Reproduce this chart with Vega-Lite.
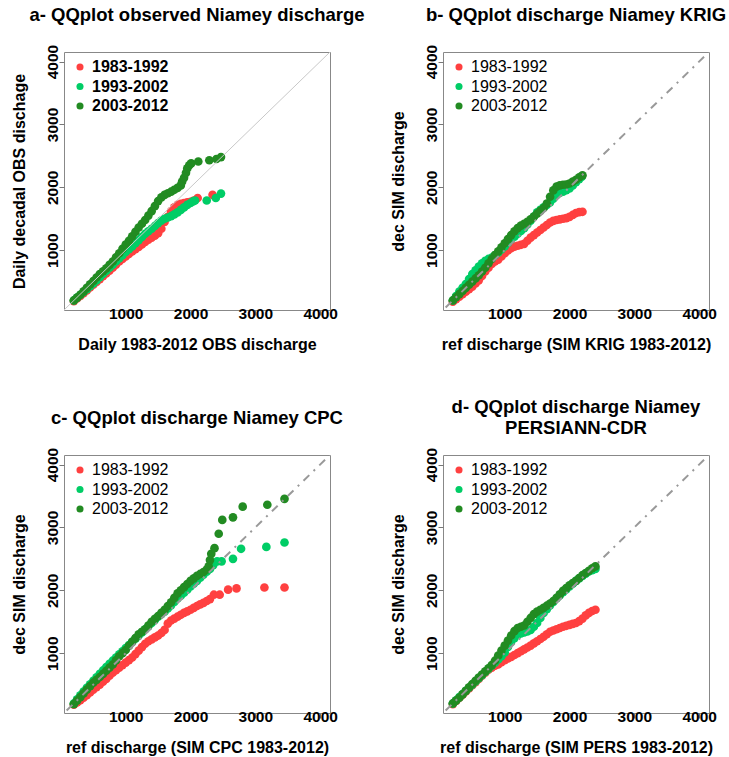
{
  "$schema": "https://vega.github.io/schema/vega-lite/v6.json",
  "background": "white",
  "padding": {"left": 11, "top": 5, "right": 2, "bottom": 2},
  "bounds": "flush",
  "columns": 2,
  "spacing": {"row": 145, "column": 113},
  "resolve": {"scale": {"color": "shared"}, "legend": {"color": "independent"}},
  "config": {
    "font": "Liberation Sans",
    "view": {"stroke": "#888888", "strokeWidth": 1},
    "axis": {"grid": false, "domain": false, "ticks": true, "tickSize": 5, "tickColor": "#777777", "labelFontSize": 15.5, "labelFontWeight": "bold", "labelColor": "#000000", "titleFontSize": 16, "titleFontWeight": "bold", "titleColor": "#000000", "labelFlush": false, "labelOverlap": false, "labelBound": false, "format": "d"},
    "axisX": {"labelPadding": -9, "titlePadding": 15},
    "axisY": {"labelAngle": -90, "labelAlign": "center", "labelBaseline": "bottom", "labelPadding": -1, "titlePadding": 17.5},
    "title": {"fontSize": 18.5, "fontWeight": "bold", "color": "#000000", "anchor": "middle", "frame": "group", "offset": 20},
    "legend": {"orient": "none", "legendX": 8, "legendY": 7, "padding": 0, "labelFontSize": 16, "symbolSize": 50, "symbolType": "circle", "labelOffset": 4, "rowPadding": 3.5, "symbolStrokeWidth": 0}
  },
  "datasets": {
    "a": [
      {"s":"1983-1992","x":200,"y":190},{"s":"1983-1992","x":250,"y":230},{"s":"1983-1992","x":300,"y":270},{"s":"1983-1992","x":350,"y":315},{"s":"1983-1992","x":400,"y":360},{"s":"1983-1992","x":450,"y":405},{"s":"1983-1992","x":500,"y":450},{"s":"1983-1992","x":550,"y":495},{"s":"1983-1992","x":600,"y":540},{"s":"1983-1992","x":650,"y":585},{"s":"1983-1992","x":700,"y":630},{"s":"1983-1992","x":750,"y":675},{"s":"1983-1992","x":800,"y":720},{"s":"1983-1992","x":850,"y":770},{"s":"1983-1992","x":900,"y":820},{"s":"1983-1992","x":950,"y":860},{"s":"1983-1992","x":1000,"y":900},{"s":"1983-1992","x":1050,"y":940},{"s":"1983-1992","x":1100,"y":980},{"s":"1983-1992","x":1150,"y":1015},{"s":"1983-1992","x":1200,"y":1050},{"s":"1983-1992","x":1250,"y":1090},{"s":"1983-1992","x":1300,"y":1130},{"s":"1983-1992","x":1350,"y":1165},{"s":"1983-1992","x":1400,"y":1200},{"s":"1983-1992","x":1450,"y":1230},{"s":"1983-1992","x":1500,"y":1270},{"s":"1983-1992","x":1550,"y":1340},{"s":"1983-1992","x":1600,"y":1450},{"s":"1983-1992","x":1650,"y":1530},{"s":"1983-1992","x":1700,"y":1620},{"s":"1983-1992","x":1750,"y":1680},{"s":"1983-1992","x":1800,"y":1720},{"s":"1983-1992","x":1850,"y":1735},{"s":"1983-1992","x":1900,"y":1750},{"s":"1983-1992","x":1950,"y":1760},{"s":"1983-1992","x":2000,"y":1770},{"s":"1983-1992","x":2050,"y":1790},{"s":"1983-1992","x":2110,"y":1830},{"s":"1983-1992","x":2340,"y":1880},
      {"s":"1993-2002","x":200,"y":200},{"s":"1993-2002","x":250,"y":245},{"s":"1993-2002","x":300,"y":290},{"s":"1993-2002","x":350,"y":335},{"s":"1993-2002","x":400,"y":380},{"s":"1993-2002","x":450,"y":425},{"s":"1993-2002","x":500,"y":470},{"s":"1993-2002","x":550,"y":520},{"s":"1993-2002","x":600,"y":570},{"s":"1993-2002","x":650,"y":620},{"s":"1993-2002","x":700,"y":670},{"s":"1993-2002","x":750,"y":720},{"s":"1993-2002","x":800,"y":770},{"s":"1993-2002","x":850,"y":820},{"s":"1993-2002","x":900,"y":870},{"s":"1993-2002","x":950,"y":920},{"s":"1993-2002","x":1000,"y":970},{"s":"1993-2002","x":1050,"y":1015},{"s":"1993-2002","x":1100,"y":1060},{"s":"1993-2002","x":1150,"y":1110},{"s":"1993-2002","x":1200,"y":1160},{"s":"1993-2002","x":1250,"y":1210},{"s":"1993-2002","x":1300,"y":1260},{"s":"1993-2002","x":1350,"y":1300},{"s":"1993-2002","x":1400,"y":1340},{"s":"1993-2002","x":1450,"y":1385},{"s":"1993-2002","x":1500,"y":1430},{"s":"1993-2002","x":1550,"y":1470},{"s":"1993-2002","x":1600,"y":1500},{"s":"1993-2002","x":1650,"y":1520},{"s":"1993-2002","x":1700,"y":1540},{"s":"1993-2002","x":1750,"y":1570},{"s":"1993-2002","x":1800,"y":1600},{"s":"1993-2002","x":1850,"y":1640},{"s":"1993-2002","x":1900,"y":1680},{"s":"1993-2002","x":1950,"y":1720},{"s":"1993-2002","x":2000,"y":1750},{"s":"1993-2002","x":2040,"y":1775},{"s":"1993-2002","x":2070,"y":1790},{"s":"1993-2002","x":2250,"y":1790},{"s":"1993-2002","x":2390,"y":1830},{"s":"1993-2002","x":2470,"y":1900},
      {"s":"2003-2012","x":200,"y":200},{"s":"2003-2012","x":250,"y":245},{"s":"2003-2012","x":300,"y":290},{"s":"2003-2012","x":350,"y":345},{"s":"2003-2012","x":400,"y":400},{"s":"2003-2012","x":450,"y":455},{"s":"2003-2012","x":500,"y":510},{"s":"2003-2012","x":550,"y":565},{"s":"2003-2012","x":600,"y":620},{"s":"2003-2012","x":650,"y":665},{"s":"2003-2012","x":700,"y":710},{"s":"2003-2012","x":750,"y":765},{"s":"2003-2012","x":800,"y":820},{"s":"2003-2012","x":850,"y":885},{"s":"2003-2012","x":900,"y":950},{"s":"2003-2012","x":950,"y":1020},{"s":"2003-2012","x":1000,"y":1090},{"s":"2003-2012","x":1050,"y":1150},{"s":"2003-2012","x":1100,"y":1220},{"s":"2003-2012","x":1150,"y":1290},{"s":"2003-2012","x":1200,"y":1360},{"s":"2003-2012","x":1250,"y":1420},{"s":"2003-2012","x":1300,"y":1480},{"s":"2003-2012","x":1350,"y":1550},{"s":"2003-2012","x":1400,"y":1620},{"s":"2003-2012","x":1450,"y":1700},{"s":"2003-2012","x":1500,"y":1780},{"s":"2003-2012","x":1550,"y":1840},{"s":"2003-2012","x":1600,"y":1880},{"s":"2003-2012","x":1650,"y":1905},{"s":"2003-2012","x":1700,"y":1930},{"s":"2003-2012","x":1750,"y":1960},{"s":"2003-2012","x":1800,"y":1990},{"s":"2003-2012","x":1850,"y":2030},{"s":"2003-2012","x":1870,"y":2090},{"s":"2003-2012","x":1900,"y":2150},{"s":"2003-2012","x":1930,"y":2230},{"s":"2003-2012","x":1950,"y":2300},{"s":"2003-2012","x":1980,"y":2350},{"s":"2003-2012","x":2010,"y":2380},{"s":"2003-2012","x":2120,"y":2410},{"s":"2003-2012","x":2290,"y":2430},{"s":"2003-2012","x":2400,"y":2450},{"s":"2003-2012","x":2470,"y":2480}
    ],
    "b": [
      {"s":"1983-1992","x":200,"y":180},{"s":"1983-1992","x":250,"y":220},{"s":"1983-1992","x":300,"y":260},{"s":"1983-1992","x":350,"y":300},{"s":"1983-1992","x":400,"y":340},{"s":"1983-1992","x":450,"y":380},{"s":"1983-1992","x":500,"y":420},{"s":"1983-1992","x":550,"y":470},{"s":"1983-1992","x":600,"y":520},{"s":"1983-1992","x":650,"y":590},{"s":"1983-1992","x":700,"y":660},{"s":"1983-1992","x":750,"y":720},{"s":"1983-1992","x":800,"y":780},{"s":"1983-1992","x":850,"y":820},{"s":"1983-1992","x":900,"y":850},{"s":"1983-1992","x":950,"y":900},{"s":"1983-1992","x":1000,"y":950},{"s":"1983-1992","x":1050,"y":995},{"s":"1983-1992","x":1100,"y":1030},{"s":"1983-1992","x":1150,"y":1055},{"s":"1983-1992","x":1200,"y":1070},{"s":"1983-1992","x":1250,"y":1085},{"s":"1983-1992","x":1300,"y":1100},{"s":"1983-1992","x":1350,"y":1150},{"s":"1983-1992","x":1400,"y":1200},{"s":"1983-1992","x":1450,"y":1240},{"s":"1983-1992","x":1500,"y":1280},{"s":"1983-1992","x":1550,"y":1320},{"s":"1983-1992","x":1600,"y":1360},{"s":"1983-1992","x":1650,"y":1400},{"s":"1983-1992","x":1700,"y":1440},{"s":"1983-1992","x":1750,"y":1465},{"s":"1983-1992","x":1800,"y":1480},{"s":"1983-1992","x":1850,"y":1490},{"s":"1983-1992","x":1900,"y":1500},{"s":"1983-1992","x":1950,"y":1510},{"s":"1983-1992","x":2000,"y":1530},{"s":"1983-1992","x":2050,"y":1560},{"s":"1983-1992","x":2100,"y":1590},{"s":"1983-1992","x":2150,"y":1605},{"s":"1983-1992","x":2200,"y":1610},
      {"s":"1993-2002","x":200,"y":200},{"s":"1993-2002","x":250,"y":270},{"s":"1993-2002","x":300,"y":340},{"s":"1993-2002","x":350,"y":400},{"s":"1993-2002","x":400,"y":460},{"s":"1993-2002","x":450,"y":540},{"s":"1993-2002","x":500,"y":620},{"s":"1993-2002","x":550,"y":680},{"s":"1993-2002","x":600,"y":740},{"s":"1993-2002","x":650,"y":790},{"s":"1993-2002","x":700,"y":830},{"s":"1993-2002","x":750,"y":860},{"s":"1993-2002","x":800,"y":880},{"s":"1993-2002","x":850,"y":920},{"s":"1993-2002","x":900,"y":960},{"s":"1993-2002","x":950,"y":1010},{"s":"1993-2002","x":1000,"y":1060},{"s":"1993-2002","x":1050,"y":1115},{"s":"1993-2002","x":1100,"y":1170},{"s":"1993-2002","x":1150,"y":1215},{"s":"1993-2002","x":1200,"y":1260},{"s":"1993-2002","x":1250,"y":1305},{"s":"1993-2002","x":1300,"y":1350},{"s":"1993-2002","x":1350,"y":1410},{"s":"1993-2002","x":1400,"y":1470},{"s":"1993-2002","x":1450,"y":1535},{"s":"1993-2002","x":1500,"y":1600},{"s":"1993-2002","x":1550,"y":1640},{"s":"1993-2002","x":1600,"y":1680},{"s":"1993-2002","x":1650,"y":1720},{"s":"1993-2002","x":1700,"y":1760},{"s":"1993-2002","x":1750,"y":1820},{"s":"1993-2002","x":1800,"y":1880},{"s":"1993-2002","x":1850,"y":1910},{"s":"1993-2002","x":1900,"y":1930},{"s":"1993-2002","x":1950,"y":1955},{"s":"1993-2002","x":2000,"y":1980},{"s":"1993-2002","x":2050,"y":2030},{"s":"1993-2002","x":2100,"y":2080},{"s":"1993-2002","x":2150,"y":2130},{"s":"1993-2002","x":2190,"y":2170},
      {"s":"2003-2012","x":200,"y":200},{"s":"2003-2012","x":250,"y":250},{"s":"2003-2012","x":300,"y":300},{"s":"2003-2012","x":350,"y":350},{"s":"2003-2012","x":400,"y":400},{"s":"2003-2012","x":450,"y":450},{"s":"2003-2012","x":500,"y":500},{"s":"2003-2012","x":550,"y":550},{"s":"2003-2012","x":600,"y":600},{"s":"2003-2012","x":650,"y":660},{"s":"2003-2012","x":700,"y":720},{"s":"2003-2012","x":750,"y":790},{"s":"2003-2012","x":800,"y":860},{"s":"2003-2012","x":850,"y":920},{"s":"2003-2012","x":900,"y":980},{"s":"2003-2012","x":950,"y":1045},{"s":"2003-2012","x":1000,"y":1110},{"s":"2003-2012","x":1050,"y":1175},{"s":"2003-2012","x":1100,"y":1240},{"s":"2003-2012","x":1150,"y":1300},{"s":"2003-2012","x":1200,"y":1350},{"s":"2003-2012","x":1250,"y":1390},{"s":"2003-2012","x":1300,"y":1420},{"s":"2003-2012","x":1350,"y":1450},{"s":"2003-2012","x":1400,"y":1490},{"s":"2003-2012","x":1450,"y":1535},{"s":"2003-2012","x":1500,"y":1580},{"s":"2003-2012","x":1550,"y":1625},{"s":"2003-2012","x":1600,"y":1670},{"s":"2003-2012","x":1650,"y":1740},{"s":"2003-2012","x":1700,"y":1850},{"s":"2003-2012","x":1750,"y":1950},{"s":"2003-2012","x":1800,"y":2010},{"s":"2003-2012","x":1850,"y":2030},{"s":"2003-2012","x":1900,"y":2040},{"s":"2003-2012","x":1950,"y":2045},{"s":"2003-2012","x":2000,"y":2060},{"s":"2003-2012","x":2050,"y":2090},{"s":"2003-2012","x":2100,"y":2120},{"s":"2003-2012","x":2150,"y":2160},{"s":"2003-2012","x":2200,"y":2190}
    ],
    "c": [
      {"s":"1983-1992","x":200,"y":180},{"s":"1983-1992","x":250,"y":215},{"s":"1983-1992","x":300,"y":250},{"s":"1983-1992","x":350,"y":290},{"s":"1983-1992","x":400,"y":330},{"s":"1983-1992","x":450,"y":375},{"s":"1983-1992","x":500,"y":420},{"s":"1983-1992","x":550,"y":460},{"s":"1983-1992","x":600,"y":500},{"s":"1983-1992","x":650,"y":545},{"s":"1983-1992","x":700,"y":590},{"s":"1983-1992","x":750,"y":640},{"s":"1983-1992","x":800,"y":690},{"s":"1983-1992","x":850,"y":730},{"s":"1983-1992","x":900,"y":770},{"s":"1983-1992","x":950,"y":810},{"s":"1983-1992","x":1000,"y":850},{"s":"1983-1992","x":1050,"y":890},{"s":"1983-1992","x":1100,"y":930},{"s":"1983-1992","x":1150,"y":985},{"s":"1983-1992","x":1200,"y":1040},{"s":"1983-1992","x":1250,"y":1095},{"s":"1983-1992","x":1300,"y":1150},{"s":"1983-1992","x":1350,"y":1190},{"s":"1983-1992","x":1400,"y":1220},{"s":"1983-1992","x":1450,"y":1250},{"s":"1983-1992","x":1500,"y":1280},{"s":"1983-1992","x":1550,"y":1320},{"s":"1983-1992","x":1600,"y":1370},{"s":"1983-1992","x":1650,"y":1470},{"s":"1983-1992","x":1700,"y":1520},{"s":"1983-1992","x":1750,"y":1550},{"s":"1983-1992","x":1800,"y":1580},{"s":"1983-1992","x":1850,"y":1610},{"s":"1983-1992","x":1900,"y":1640},{"s":"1983-1992","x":1950,"y":1665},{"s":"1983-1992","x":2000,"y":1690},{"s":"1983-1992","x":2050,"y":1720},{"s":"1983-1992","x":2100,"y":1750},{"s":"1983-1992","x":2150,"y":1775},{"s":"1983-1992","x":2200,"y":1800},{"s":"1983-1992","x":2250,"y":1830},{"s":"1983-1992","x":2300,"y":1860},{"s":"1983-1992","x":2360,"y":1930},{"s":"1983-1992","x":2450,"y":1930},{"s":"1983-1992","x":2580,"y":2010},{"s":"1983-1992","x":2710,"y":2030},{"s":"1983-1992","x":3140,"y":2045},{"s":"1983-1992","x":3450,"y":2045},
      {"s":"1993-2002","x":200,"y":200},{"s":"1993-2002","x":250,"y":265},{"s":"1993-2002","x":300,"y":330},{"s":"1993-2002","x":350,"y":390},{"s":"1993-2002","x":400,"y":450},{"s":"1993-2002","x":450,"y":505},{"s":"1993-2002","x":500,"y":560},{"s":"1993-2002","x":550,"y":615},{"s":"1993-2002","x":600,"y":670},{"s":"1993-2002","x":650,"y":725},{"s":"1993-2002","x":700,"y":780},{"s":"1993-2002","x":750,"y":830},{"s":"1993-2002","x":800,"y":880},{"s":"1993-2002","x":850,"y":930},{"s":"1993-2002","x":900,"y":980},{"s":"1993-2002","x":950,"y":1030},{"s":"1993-2002","x":1000,"y":1080},{"s":"1993-2002","x":1050,"y":1130},{"s":"1993-2002","x":1100,"y":1180},{"s":"1993-2002","x":1150,"y":1230},{"s":"1993-2002","x":1200,"y":1280},{"s":"1993-2002","x":1250,"y":1330},{"s":"1993-2002","x":1300,"y":1380},{"s":"1993-2002","x":1350,"y":1430},{"s":"1993-2002","x":1400,"y":1480},{"s":"1993-2002","x":1450,"y":1530},{"s":"1993-2002","x":1500,"y":1580},{"s":"1993-2002","x":1550,"y":1620},{"s":"1993-2002","x":1600,"y":1660},{"s":"1993-2002","x":1650,"y":1710},{"s":"1993-2002","x":1700,"y":1760},{"s":"1993-2002","x":1750,"y":1815},{"s":"1993-2002","x":1800,"y":1870},{"s":"1993-2002","x":1850,"y":1915},{"s":"1993-2002","x":1900,"y":1960},{"s":"1993-2002","x":1950,"y":2010},{"s":"1993-2002","x":2000,"y":2060},{"s":"1993-2002","x":2050,"y":2105},{"s":"1993-2002","x":2100,"y":2150},{"s":"1993-2002","x":2150,"y":2200},{"s":"1993-2002","x":2200,"y":2250},{"s":"1993-2002","x":2250,"y":2295},{"s":"1993-2002","x":2300,"y":2340},{"s":"1993-2002","x":2350,"y":2400},{"s":"1993-2002","x":2410,"y":2460},{"s":"1993-2002","x":2480,"y":2460},{"s":"1993-2002","x":2655,"y":2500},{"s":"1993-2002","x":2780,"y":2660},{"s":"1993-2002","x":3170,"y":2690},{"s":"1993-2002","x":3450,"y":2760},
      {"s":"2003-2012","x":200,"y":190},{"s":"2003-2012","x":250,"y":245},{"s":"2003-2012","x":300,"y":300},{"s":"2003-2012","x":350,"y":360},{"s":"2003-2012","x":400,"y":420},{"s":"2003-2012","x":450,"y":475},{"s":"2003-2012","x":500,"y":530},{"s":"2003-2012","x":550,"y":575},{"s":"2003-2012","x":600,"y":620},{"s":"2003-2012","x":650,"y":670},{"s":"2003-2012","x":700,"y":720},{"s":"2003-2012","x":750,"y":770},{"s":"2003-2012","x":800,"y":820},{"s":"2003-2012","x":850,"y":885},{"s":"2003-2012","x":900,"y":950},{"s":"2003-2012","x":950,"y":1000},{"s":"2003-2012","x":1000,"y":1050},{"s":"2003-2012","x":1050,"y":1115},{"s":"2003-2012","x":1100,"y":1180},{"s":"2003-2012","x":1150,"y":1240},{"s":"2003-2012","x":1200,"y":1300},{"s":"2003-2012","x":1250,"y":1340},{"s":"2003-2012","x":1300,"y":1380},{"s":"2003-2012","x":1350,"y":1440},{"s":"2003-2012","x":1400,"y":1500},{"s":"2003-2012","x":1450,"y":1545},{"s":"2003-2012","x":1500,"y":1590},{"s":"2003-2012","x":1550,"y":1640},{"s":"2003-2012","x":1600,"y":1690},{"s":"2003-2012","x":1650,"y":1750},{"s":"2003-2012","x":1700,"y":1810},{"s":"2003-2012","x":1750,"y":1880},{"s":"2003-2012","x":1800,"y":1950},{"s":"2003-2012","x":1850,"y":2000},{"s":"2003-2012","x":1900,"y":2050},{"s":"2003-2012","x":1950,"y":2100},{"s":"2003-2012","x":2000,"y":2150},{"s":"2003-2012","x":2050,"y":2190},{"s":"2003-2012","x":2100,"y":2230},{"s":"2003-2012","x":2150,"y":2260},{"s":"2003-2012","x":2200,"y":2290},{"s":"2003-2012","x":2250,"y":2330},{"s":"2003-2012","x":2280,"y":2380},{"s":"2003-2012","x":2300,"y":2480},{"s":"2003-2012","x":2320,"y":2580},{"s":"2003-2012","x":2370,"y":2670},{"s":"2003-2012","x":2435,"y":2900},{"s":"2003-2012","x":2490,"y":3120},{"s":"2003-2012","x":2655,"y":3160},{"s":"2003-2012","x":2805,"y":3330},{"s":"2003-2012","x":3185,"y":3360},{"s":"2003-2012","x":3450,"y":3455}
    ],
    "d": [
      {"s":"1983-1992","x":200,"y":190},{"s":"1983-1992","x":250,"y":240},{"s":"1983-1992","x":300,"y":290},{"s":"1983-1992","x":350,"y":340},{"s":"1983-1992","x":400,"y":390},{"s":"1983-1992","x":450,"y":440},{"s":"1983-1992","x":500,"y":490},{"s":"1983-1992","x":550,"y":540},{"s":"1983-1992","x":600,"y":590},{"s":"1983-1992","x":650,"y":640},{"s":"1983-1992","x":700,"y":690},{"s":"1983-1992","x":750,"y":735},{"s":"1983-1992","x":800,"y":770},{"s":"1983-1992","x":850,"y":800},{"s":"1983-1992","x":900,"y":820},{"s":"1983-1992","x":950,"y":855},{"s":"1983-1992","x":1000,"y":890},{"s":"1983-1992","x":1050,"y":915},{"s":"1983-1992","x":1100,"y":940},{"s":"1983-1992","x":1150,"y":970},{"s":"1983-1992","x":1200,"y":1000},{"s":"1983-1992","x":1250,"y":1030},{"s":"1983-1992","x":1300,"y":1060},{"s":"1983-1992","x":1350,"y":1090},{"s":"1983-1992","x":1400,"y":1120},{"s":"1983-1992","x":1450,"y":1155},{"s":"1983-1992","x":1500,"y":1190},{"s":"1983-1992","x":1550,"y":1225},{"s":"1983-1992","x":1600,"y":1260},{"s":"1983-1992","x":1650,"y":1300},{"s":"1983-1992","x":1700,"y":1340},{"s":"1983-1992","x":1750,"y":1360},{"s":"1983-1992","x":1800,"y":1380},{"s":"1983-1992","x":1850,"y":1400},{"s":"1983-1992","x":1900,"y":1420},{"s":"1983-1992","x":1950,"y":1435},{"s":"1983-1992","x":2000,"y":1450},{"s":"1983-1992","x":2050,"y":1465},{"s":"1983-1992","x":2100,"y":1480},{"s":"1983-1992","x":2150,"y":1510},{"s":"1983-1992","x":2200,"y":1550},{"s":"1983-1992","x":2250,"y":1600},{"s":"1983-1992","x":2300,"y":1640},{"s":"1983-1992","x":2350,"y":1670},{"s":"1983-1992","x":2400,"y":1690},
      {"s":"1993-2002","x":200,"y":200},{"s":"1993-2002","x":250,"y":250},{"s":"1993-2002","x":300,"y":300},{"s":"1993-2002","x":350,"y":350},{"s":"1993-2002","x":400,"y":400},{"s":"1993-2002","x":450,"y":450},{"s":"1993-2002","x":500,"y":500},{"s":"1993-2002","x":550,"y":550},{"s":"1993-2002","x":600,"y":600},{"s":"1993-2002","x":650,"y":650},{"s":"1993-2002","x":700,"y":700},{"s":"1993-2002","x":750,"y":750},{"s":"1993-2002","x":800,"y":800},{"s":"1993-2002","x":850,"y":850},{"s":"1993-2002","x":900,"y":900},{"s":"1993-2002","x":950,"y":950},{"s":"1993-2002","x":1000,"y":1010},{"s":"1993-2002","x":1050,"y":1100},{"s":"1993-2002","x":1100,"y":1180},{"s":"1993-2002","x":1150,"y":1240},{"s":"1993-2002","x":1200,"y":1290},{"s":"1993-2002","x":1250,"y":1315},{"s":"1993-2002","x":1300,"y":1330},{"s":"1993-2002","x":1350,"y":1345},{"s":"1993-2002","x":1400,"y":1370},{"s":"1993-2002","x":1450,"y":1420},{"s":"1993-2002","x":1500,"y":1480},{"s":"1993-2002","x":1550,"y":1560},{"s":"1993-2002","x":1600,"y":1640},{"s":"1993-2002","x":1650,"y":1700},{"s":"1993-2002","x":1700,"y":1760},{"s":"1993-2002","x":1750,"y":1815},{"s":"1993-2002","x":1800,"y":1870},{"s":"1993-2002","x":1850,"y":1920},{"s":"1993-2002","x":1900,"y":1970},{"s":"1993-2002","x":1950,"y":2015},{"s":"1993-2002","x":2000,"y":2060},{"s":"1993-2002","x":2050,"y":2105},{"s":"1993-2002","x":2100,"y":2150},{"s":"1993-2002","x":2150,"y":2190},{"s":"1993-2002","x":2200,"y":2230},{"s":"1993-2002","x":2250,"y":2265},{"s":"1993-2002","x":2300,"y":2300},{"s":"1993-2002","x":2350,"y":2320},{"s":"1993-2002","x":2400,"y":2340},
      {"s":"2003-2012","x":200,"y":200},{"s":"2003-2012","x":250,"y":245},{"s":"2003-2012","x":300,"y":290},{"s":"2003-2012","x":350,"y":345},{"s":"2003-2012","x":400,"y":400},{"s":"2003-2012","x":450,"y":455},{"s":"2003-2012","x":500,"y":510},{"s":"2003-2012","x":550,"y":560},{"s":"2003-2012","x":600,"y":610},{"s":"2003-2012","x":650,"y":660},{"s":"2003-2012","x":700,"y":710},{"s":"2003-2012","x":750,"y":760},{"s":"2003-2012","x":800,"y":810},{"s":"2003-2012","x":850,"y":880},{"s":"2003-2012","x":900,"y":960},{"s":"2003-2012","x":950,"y":1040},{"s":"2003-2012","x":1000,"y":1120},{"s":"2003-2012","x":1050,"y":1200},{"s":"2003-2012","x":1100,"y":1280},{"s":"2003-2012","x":1150,"y":1350},{"s":"2003-2012","x":1200,"y":1400},{"s":"2003-2012","x":1250,"y":1420},{"s":"2003-2012","x":1300,"y":1440},{"s":"2003-2012","x":1350,"y":1500},{"s":"2003-2012","x":1400,"y":1560},{"s":"2003-2012","x":1450,"y":1620},{"s":"2003-2012","x":1500,"y":1660},{"s":"2003-2012","x":1550,"y":1690},{"s":"2003-2012","x":1600,"y":1720},{"s":"2003-2012","x":1650,"y":1755},{"s":"2003-2012","x":1700,"y":1790},{"s":"2003-2012","x":1750,"y":1830},{"s":"2003-2012","x":1800,"y":1880},{"s":"2003-2012","x":1850,"y":1935},{"s":"2003-2012","x":1900,"y":1990},{"s":"2003-2012","x":1950,"y":2035},{"s":"2003-2012","x":2000,"y":2080},{"s":"2003-2012","x":2050,"y":2115},{"s":"2003-2012","x":2100,"y":2150},{"s":"2003-2012","x":2150,"y":2195},{"s":"2003-2012","x":2200,"y":2240},{"s":"2003-2012","x":2250,"y":2275},{"s":"2003-2012","x":2300,"y":2310},{"s":"2003-2012","x":2350,"y":2350},{"s":"2003-2012","x":2400,"y":2380}
    ],
    "diag": [{"x": 0, "y": 0}, {"x": 4300, "y": 4300}]
  },
  "concat": [
    {
      "title": {"text": "a- QQplot observed Niamey discharge"},
      "width": 266, "height": 258,
      "layer": [
        {
          "data": {"name": "a"},
          "mark": {"type": "point", "filled": true, "size": 75, "opacity": 1, "strokeWidth": 0},
          "encoding": {
            "x": {"field": "x", "type": "quantitative", "scale": {"domain": [48, 4152], "nice": false, "zero": false}, "axis": {"title": "Daily 1983-2012 OBS discharge", "values": [1000, 2000, 3000, 4000]}},
            "y": {"field": "y", "type": "quantitative", "scale": {"domain": [48, 4152], "nice": false, "zero": false}, "axis": {"title": "Daily decadal OBS dischage", "values": [1000, 2000, 3000, 4000]}},
            "color": {"field": "s", "type": "nominal", "scale": {"domain": ["1983-1992", "1993-2002", "2003-2012"], "range": ["#FF4040", "#00CD66", "#228B22"]}, "legend": {"title": null, "labelFontWeight": "bold", "encode": {"labels": {"update": {"fill": {"signal": "datum.value === '1983-1992' ? '#FF4040' : datum.value === '1993-2002' ? '#00CD66' : '#228B22'"}}}}}}
          }
        },
        {
          "data": {"name": "diag"},
          "mark": {"type": "line", "clip": true, "color": "#C8C8C8", "strokeWidth": 1},
          "encoding": {"x": {"field": "x", "type": "quantitative"}, "y": {"field": "y", "type": "quantitative"}}
        }
      ]
    },
    {
      "title": {"text": "b- QQplot discharge Niamey KRIG"},
      "width": 266, "height": 258,
      "layer": [
        {
          "data": {"name": "b"},
          "mark": {"type": "point", "filled": true, "size": 75, "opacity": 1, "strokeWidth": 0},
          "encoding": {
            "x": {"field": "x", "type": "quantitative", "scale": {"domain": [48, 4152], "nice": false, "zero": false}, "axis": {"title": "ref discharge (SIM KRIG 1983-2012)", "values": [1000, 2000, 3000, 4000]}},
            "y": {"field": "y", "type": "quantitative", "scale": {"domain": [48, 4152], "nice": false, "zero": false}, "axis": {"title": "dec SIM discharge", "values": [1000, 2000, 3000, 4000]}},
            "color": {"field": "s", "type": "nominal", "legend": {"title": null, "labelFontWeight": "normal", "encode": {"labels": {"update": {"fill": {"signal": "datum.value === '1983-1992' ? '#FF4040' : datum.value === '1993-2002' ? '#00CD66' : '#228B22'"}}}}}}
          }
        },
        {
          "data": {"name": "diag"},
          "mark": {"type": "line", "clip": true, "color": "#999999", "strokeWidth": 2, "strokeDash": [2, 6, 8, 6]},
          "encoding": {"x": {"field": "x", "type": "quantitative"}, "y": {"field": "y", "type": "quantitative"}}
        }
      ]
    },
    {
      "title": {"text": "c- QQplot discharge Niamey CPC"},
      "width": 266, "height": 258,
      "layer": [
        {
          "data": {"name": "c"},
          "mark": {"type": "point", "filled": true, "size": 75, "opacity": 1, "strokeWidth": 0},
          "encoding": {
            "x": {"field": "x", "type": "quantitative", "scale": {"domain": [48, 4152], "nice": false, "zero": false}, "axis": {"title": "ref discharge (SIM CPC 1983-2012)", "values": [1000, 2000, 3000, 4000]}},
            "y": {"field": "y", "type": "quantitative", "scale": {"domain": [48, 4152], "nice": false, "zero": false}, "axis": {"title": "dec SIM discharge", "values": [1000, 2000, 3000, 4000]}},
            "color": {"field": "s", "type": "nominal", "legend": {"title": null, "labelFontWeight": "normal", "encode": {"labels": {"update": {"fill": {"signal": "datum.value === '1983-1992' ? '#FF4040' : datum.value === '1993-2002' ? '#00CD66' : '#228B22'"}}}}}}
          }
        },
        {
          "data": {"name": "diag"},
          "mark": {"type": "line", "clip": true, "color": "#999999", "strokeWidth": 2, "strokeDash": [2, 6, 8, 6]},
          "encoding": {"x": {"field": "x", "type": "quantitative"}, "y": {"field": "y", "type": "quantitative"}}
        }
      ]
    },
    {
      "title": {"text": ["d- QQplot discharge Niamey", "PERSIANN-CDR"], "lineHeight": 21, "offset": 10},
      "width": 266, "height": 258,
      "layer": [
        {
          "data": {"name": "d"},
          "mark": {"type": "point", "filled": true, "size": 75, "opacity": 1, "strokeWidth": 0},
          "encoding": {
            "x": {"field": "x", "type": "quantitative", "scale": {"domain": [48, 4152], "nice": false, "zero": false}, "axis": {"title": "ref discharge (SIM PERS 1983-2012)", "values": [1000, 2000, 3000, 4000]}},
            "y": {"field": "y", "type": "quantitative", "scale": {"domain": [48, 4152], "nice": false, "zero": false}, "axis": {"title": "dec SIM discharge", "values": [1000, 2000, 3000, 4000]}},
            "color": {"field": "s", "type": "nominal", "legend": {"title": null, "labelFontWeight": "normal", "encode": {"labels": {"update": {"fill": {"signal": "datum.value === '1983-1992' ? '#FF4040' : datum.value === '1993-2002' ? '#00CD66' : '#228B22'"}}}}}}
          }
        },
        {
          "data": {"name": "diag"},
          "mark": {"type": "line", "clip": true, "color": "#999999", "strokeWidth": 2, "strokeDash": [2, 6, 8, 6]},
          "encoding": {"x": {"field": "x", "type": "quantitative"}, "y": {"field": "y", "type": "quantitative"}}
        }
      ]
    }
  ]
}
